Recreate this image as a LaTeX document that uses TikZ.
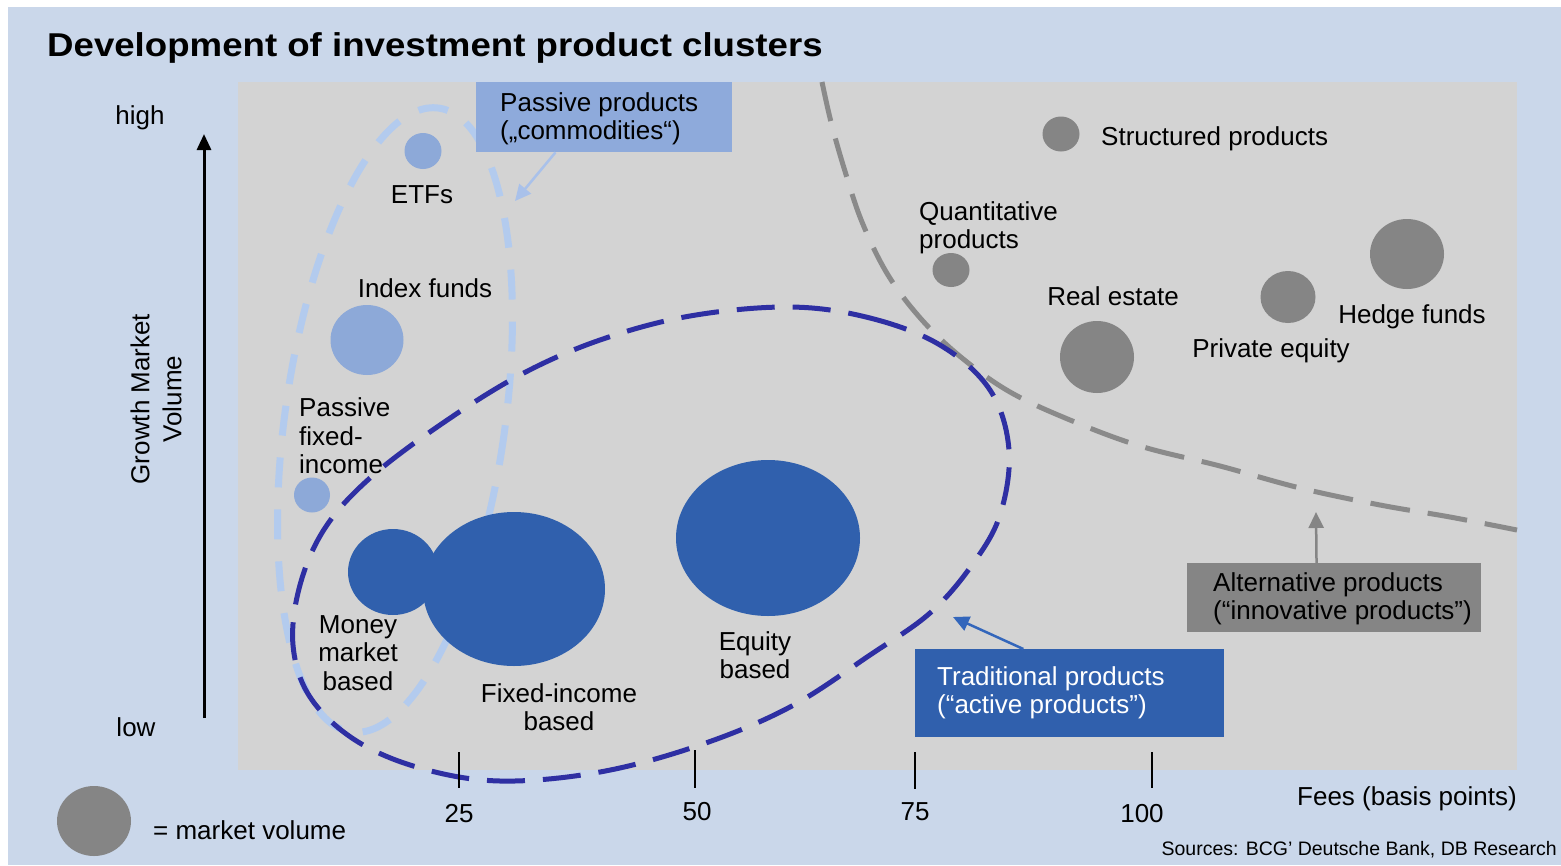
\documentclass[tikz,border=0pt]{standalone}
\usepackage{fontspec}
\setmainfont{Liberation Sans}
\usetikzlibrary{shapes.geometric,arrows.meta,calc}
\definecolor{bgblue}{HTML}{CAD7EA}
\definecolor{plotgray}{HTML}{D3D3D3}
\definecolor{lightfill}{HTML}{8DA9D8}
\definecolor{lightdash}{HTML}{B3CBEE}
\definecolor{darkfill}{HTML}{3060AD}
\definecolor{darkdash}{HTML}{2E2FA3}
\definecolor{grayfill}{HTML}{858585}
\definecolor{graydash}{HTML}{8A8A8A}
\definecolor{passarrow}{HTML}{A9C1EA}
\definecolor{tradarrow}{HTML}{3366BB}
\definecolor{passbox}{HTML}{8EAADB}
\begin{document}
\begin{tikzpicture}[x=1pt,y=-1pt,
  txt/.style={font=\fontsize{26}{28.5}\selectfont, inner sep=0pt, text=black},
  bubble/.style={ellipse, inner sep=0pt, draw=none},
  lightbub/.style={bubble, fill=lightfill},
  darkbub/.style={bubble, fill=darkfill},
  graybub/.style={bubble, fill=grayfill},
  boxshape/.style={rectangle, inner sep=0pt, draw=none},
  tick/.style={line width=2pt, black},
  callout/.style={line width=2.5pt, -{Triangle[width=15pt,length=16pt]}}
]
\useasboundingbox (0,0) rectangle (1561,865);
\fill[white] (0,0) rectangle (1561,865);
\fill[bgblue] (8,7) rectangle (1561,865);
\fill[plotgray] (238,82) rectangle (1517,770);

% title
\node[anchor=base west, inner sep=0pt, font=\fontsize{33}{36}\selectfont\bfseries] (title) at (47,56)
  {\scalebox{1.11}[1]{Development of investment product clusters}};

% passive cluster outline
\draw[lightdash, line width=7pt, dash pattern=on 30pt off 22pt, rotate around={-8:(395,420)}]
  (395,420) ellipse [x radius=110, y radius=315];

% boundary of alternative products
\draw[graydash, line width=5pt, dash pattern=on 40pt off 18pt]
  plot[smooth, tension=0.6] coordinates {(822,82) (831,122) (844,168) (862,222) (888,275) (922,320) (962,358) (1010,392) (1070,420) (1140,446) (1220,466) (1300,488) (1380,505) (1450,517) (1517,530)};

% bubbles
\node[lightbub, minimum width=37, minimum height=36] (etf) at (423,151) {};
\node[lightbub, minimum width=73, minimum height=70] (idx) at (367,340) {};
\node[lightbub, minimum width=36, minimum height=35] (pfi) at (312,495) {};
\node[darkbub, minimum width=90, minimum height=86] (mm) at (393,572) {};
\node[darkbub, minimum width=182, minimum height=154] (fi) at (514,589) {};
\node[darkbub, minimum width=184, minimum height=156] (eq) at (768,538) {};
\node[graybub, minimum width=37, minimum height=35] (sp) at (1061,134) {};
\node[graybub, minimum width=37, minimum height=34] (qp) at (951,270) {};
\node[graybub, minimum width=74, minimum height=72] (re) at (1097,357) {};
\node[graybub, minimum width=55, minimum height=52] (pe) at (1288,297) {};
\node[graybub, minimum width=74, minimum height=70] (hf) at (1407,254) {};
\node[graybub, minimum width=74, minimum height=70] (legend) at (94,821) {};

% traditional cluster outline
\draw[darkdash, line width=5pt, dash pattern=on 38pt off 18pt]
  plot[smooth cycle, tension=0.6] coordinates {(790,307) (870,318) (940,345) (990,390) (1009,450) (1000,515) (972,565) (930,613) (870,655) (790,707) (700,745) (600,772) (500,781) (420,768) (355,740) (310,697) (293,645) (300,585) (325,528) (370,478) (440,425) (520,375) (600,340) (690,316)};

% y axis
\coordinate (ylo) at (204,718);
\coordinate (yhi) at (204,134);
\draw[line width=3pt, -{Triangle[width=14pt,length=16pt]}] (ylo) -- (yhi);
\node[txt, anchor=base] (high) at (140,124) {high};
\node[txt, anchor=base] (low) at (136,736) {low};
\node[txt, font=\fontsize{26}{32}\selectfont, rotate=90, align=center] (ylabel) at (156,399) {Growth Market\\Volume};

% x axis ticks
\draw[tick] (459,752) -- (459,788);
\draw[tick] (695,750) -- (695,788);
\draw[tick] (915,752) -- (915,789);
\draw[tick] (1152,752) -- (1152,788);
\node[txt, anchor=base] (t25) at (459,822) {25};
\node[txt, anchor=base] (t50) at (697,820) {50};
\node[txt, anchor=base] (t75) at (915,820) {75};
\node[txt, anchor=base] (t100) at (1142,822) {100};
\node[txt, anchor=base east] (fees) at (1517,805) {Fees (basis points)};

% bubble labels
\node[txt, anchor=base] (etflbl) at (422,203) {ETFs};
\node[txt, anchor=base] (idxlbl) at (425,297) {Index funds};
\node[txt, anchor=west, align=left] (pfilbl) at (299,436) {Passive\\fixed-\\income};
\node[txt, align=center] (mmlbl) at (358,653) {Money\\market\\based};
\node[txt, align=center] (filbl) at (559,707) {Fixed-income\\based};
\node[txt, align=center] (eqlbl) at (755,655) {Equity\\based};
\node[txt, anchor=west, align=left] (qplbl) at (919,228) {Quantitative\\products};
\node[txt, anchor=base west] (splbl) at (1101,145) {Structured products};
\node[txt, anchor=base] (relbl) at (1113,305) {Real estate};
\node[txt, anchor=base] (pelbl) at (1271,357) {Private equity};
\node[txt, anchor=base] (hflbl) at (1412,323) {Hedge funds};
\node[txt, anchor=base west] (legendlbl) at (153,839) {= market volume};
\node[anchor=base east, inner sep=0pt, font=\fontsize{19.5}{22}\selectfont] (sources) at (1557,855) {Sources: BCG' Deutsche Bank, DB Research};

% callout boxes
\node[boxshape, fill=passbox, minimum width=256, minimum height=70, anchor=north west] (passbox) at (476,82) {};
\node[txt, anchor=west, align=left] (passtext) at (500,119) {Passive products\\(„commodities“)};
\node[boxshape, fill=grayfill, minimum width=294, minimum height=69, anchor=north west] (altbox) at (1187,563) {};
\node[txt, anchor=west, align=left] (alttext) at (1213,599) {Alternative products\\(“innovative products”)};
\node[boxshape, fill=darkfill, minimum width=309, minimum height=88, anchor=north west] (tradbox) at (915,649) {};
\node[txt, text=white, anchor=west, align=left] (tradtext) at (937,693) {Traditional products\\(“active products”)};

% callout arrows
\coordinate (passtip) at (515,201);
\coordinate (alttip) at (1316,512);
\coordinate (tradtip) at (953,617);
\draw[callout, passarrow] ($(passbox.south west)!0.31!(passbox.south east)$) -- (passtip);
\draw[callout, grayfill] ($(altbox.north west)!0.44!(altbox.north east)$) -- (alttip);
\draw[callout, tradarrow] ($(tradbox.north west)!0.35!(tradbox.north east)$) -- (tradtip);
\end{tikzpicture}
\end{document}
